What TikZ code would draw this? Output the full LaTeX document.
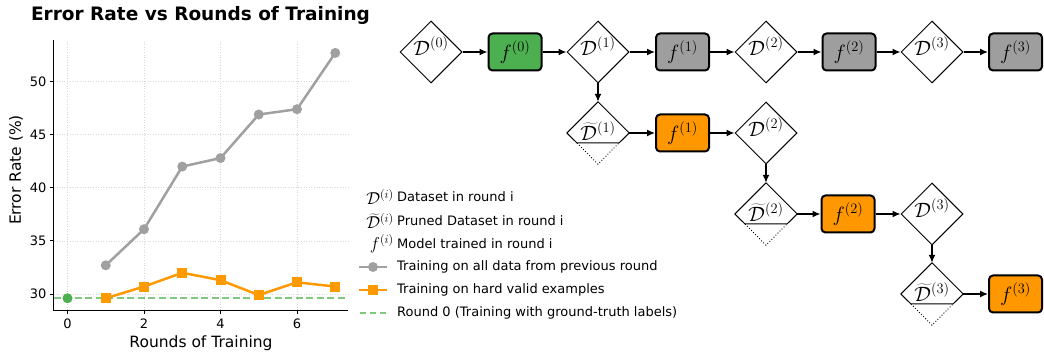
\documentclass[tikz,border=0pt]{standalone}
\usepackage{fontspec}
\newfontfamily\dv{DejaVu Sans}
\usetikzlibrary{arrows.meta,shapes.geometric,calc}
\definecolor{grayline}{HTML}{A0A0A0}
\definecolor{orangeline}{HTML}{FF9900}
\definecolor{greendot}{HTML}{4CAF50}
\definecolor{greendash}{HTML}{80C880}
\definecolor{gridc}{HTML}{D8D8D8}
\definecolor{boxgreen}{HTML}{4CAF50}
\definecolor{boxgray}{HTML}{9E9E9E}
\definecolor{boxorange}{HTML}{FF9800}
\begin{document}
\begin{tikzpicture}[x=1pt,y=-1pt,
  ds/.style={diamond, draw, line width=1pt, minimum width=62pt, minimum height=62pt, inner sep=0pt, aspect=1},
  pds/.style={diamond, minimum width=62pt, minimum height=62pt, inner sep=0pt, aspect=1},
  dlab/.style={inner sep=0pt, font=\fontsize{20}{24}\selectfont},
  mbox/.style={draw, line width=2pt, rounded corners=4pt, minimum width=53pt, minimum height=37pt, inner sep=0pt, font=\fontsize{20}{24}\selectfont},
  arr/.style={-{Latex[length=8pt,width=7pt]}, line width=1.4pt},
  ticklab/.style={font=\dv\fontsize{13}{15}\selectfont, inner sep=0pt},
  axlab/.style={font=\dv\fontsize{15.5}{18}\selectfont, inner sep=0pt},
  legtext/.style={font=\dv\fontsize{13}{15}\selectfont, anchor=west, inner sep=0pt},
  legmath/.style={font=\fontsize{18}{21}\selectfont, anchor=east, inner sep=0pt},
  gmark/.style={circle, fill=grayline, inner sep=0pt, minimum size=10pt},
  omark/.style={rectangle, fill=orangeline, inner sep=0pt, minimum size=10pt},
]
\useasboundingbox (0,0) rectangle (1044,352);

% ---------------- chart ----------------
\node[font=\dv\bfseries\fontsize{18.5}{22}\selectfont, inner sep=0pt] (title) at (200.5,15) {Error Rate vs Rounds of Training};

\begin{scope}[shift={(67.5,612.6)}, x=38.25pt, y=10.62pt]
  % grid
  \foreach \u in {0,2,4,6} \draw[gridc, dotted, line width=0.6pt] (\u,28.49) -- (\u,53.92);
  \foreach \v in {30,35,40,45,50} \draw[gridc, dotted, line width=0.6pt] (-0.353,\v) -- (7.333,\v);
  % spines
  \draw[line width=1pt] (-0.353,53.92) -- (-0.353,28.49) -- (7.333,28.49);
  % ticks and labels
  \foreach \u in {0,2,4,6} {
    \draw[line width=0.9pt] (\u,28.49) -- ++(0pt,-4pt);
    \node[ticklab, anchor=north] (xt\u) at ($(\u,28.49)+(0pt,-9pt)$) {\u};
  }
  \foreach \v in {30,35,40,45,50} {
    \draw[line width=0.9pt] (-0.353,\v) -- ++(-4pt,0pt);
    \node[ticklab, anchor=east] (yt\v) at ($(-0.353,\v)+(-7.5pt,0pt)$) {\v};
  }
  % baseline
  \draw[greendash, line width=1.8pt, dash pattern=on 7pt off 3.5pt] (-0.353,29.6) -- (7.333,29.6);
  % gray series
  \draw[grayline, line width=2.5pt, line join=round] (1,32.7) -- (2,36.1) -- (3,42.0) -- (4,42.8) -- (5,46.9) -- (6,47.4) -- (7,52.7);
  \foreach \u/\v [count=\i] in {1/32.7,2/36.1,3/42.0,4/42.8,5/46.9,6/47.4,7/52.7}
    \node[gmark] (g\i) at (\u,\v) {};
  % orange series
  \draw[orangeline, line width=2.5pt, line join=round] (1,29.6) -- (2,30.7) -- (3,32.0) -- (4,31.3) -- (5,29.9) -- (6,31.1) -- (7,30.7);
  \foreach \u/\v [count=\i] in {1/29.6,2/30.7,3/32.0,4/31.3,5/29.9,6/31.1,7/30.7}
    \node[omark] (o\i) at (\u,\v) {};
  % round 0 point
  \node[circle, fill=greendot, inner sep=0pt, minimum size=10pt] (r0) at (0,29.6) {};
\end{scope}

\node[axlab] (xlab) at (201,343) {Rounds of Training};
\node[axlab, rotate=90] (ylab) at (16,170) {Error Rate (\%)};

% legend
\node[legmath] (lm1) at (394,197) {$\mathcal{D}^{(i)}$};
\node[legtext] (lt1) at (397,197) {Dataset in round i};
\node[legmath] (lm2) at (394,221) {$\widetilde{\mathcal{D}}^{(i)}$};
\node[legtext] (lt2) at (397,221) {Pruned Dataset in round i};
\node[legmath] (lm3) at (394,244) {$f^{(i)}$};
\node[legtext] (lt3) at (397,244) {Model trained in round i};
\coordinate (lg4a) at (359,267); \coordinate (lg4b) at (387,267);
\draw[grayline, line width=2.5pt] (lg4a) -- (lg4b);
\node[gmark] (lg4m) at (373,267) {};
\node[legtext] (lt4) at (397,267) {Training on all data from previous round};
\coordinate (lg5a) at (359,290); \coordinate (lg5b) at (387,290);
\draw[orangeline, line width=2.5pt] (lg5a) -- (lg5b);
\node[omark] (lg5m) at (373,290) {};
\node[legtext] (lt5) at (397,290) {Training on hard valid examples};
\coordinate (lg6a) at (360,313); \coordinate (lg6b) at (387,313);
\draw[greendash, line width=1.8pt, dash pattern=on 6pt off 4pt] (lg6a) -- (lg6b);
\node[legtext] (lt6) at (397,313) {Round 0 (Training with ground-truth labels)};

% ---------------- flow diagram ----------------
% row 1
\node[ds] (D0) at (431,52) {};
\node[dlab] (D0l) at (431,46) {$\mathcal{D}^{(0)}$};
\node[mbox, fill=boxgreen] (f0) at (515,52) {$f^{(0)}$};
\node[ds] (D1) at (598,52) {};
\node[dlab] (D1l) at (598,46) {$\mathcal{D}^{(1)}$};
\node[mbox, fill=boxgray] (f1) at (682.5,52) {$f^{(1)}$};
\node[ds] (D2) at (766,52) {};
\node[dlab] (D2l) at (766,46) {$\mathcal{D}^{(2)}$};
\node[mbox, fill=boxgray] (f2) at (849,52) {$f^{(2)}$};
\node[ds] (D3) at (932,52) {};
\node[dlab] (D3l) at (932,46) {$\mathcal{D}^{(3)}$};
\node[mbox, fill=boxgray] (f3) at (1015.5,52) {$f^{(3)}$};

% row 2
\node[pds] (P1) at (598,133) {};
\node[dlab] (P1l) at (598,131) {$\widetilde{\mathcal{D}}^{(1)}$};
\node[mbox, fill=boxorange] (g1) at (682.5,133) {$f^{(1)}$};
\node[ds] (E2) at (766,133) {};
\node[dlab] (E2l) at (766,127) {$\mathcal{D}^{(2)}$};

% row 3
\node[pds] (P2) at (766,214) {};
\node[dlab] (P2l) at (766,212) {$\widetilde{\mathcal{D}}^{(2)}$};
\node[mbox, fill=boxorange] (g2) at (848,214) {$f^{(2)}$};
\node[ds] (E3) at (932,214) {};
\node[dlab] (E3l) at (932,208) {$\mathcal{D}^{(3)}$};

% row 4
\node[pds] (P3) at (932,294) {};
\node[dlab] (P3l) at (932,292) {$\widetilde{\mathcal{D}}^{(3)}$};
\node[mbox, fill=boxorange] (g3) at (1015.5,294) {$f^{(3)}$};

% pruned diamond outlines
\foreach \p in {P1,P2,P3} {
  \draw[line width=1pt, line join=round] ($(\p.center)+(-21,10)$) -- (\p.west) -- (\p.north) -- (\p.east) -- ($(\p.center)+(21,10)$) -- cycle;
  \draw[line width=0.9pt, dotted] ($(\p.center)+(-21,10)$) -- (\p.south) -- ($(\p.center)+(21,10)$);
}

% connectors
\draw[arr] (D0.east) -- (f0.west);
\draw[arr] (f0.east) -- (D1.west);
\draw[arr] (D1.east) -- (f1.west);
\draw[arr] (f1.east) -- (D2.west);
\draw[arr] (D2.east) -- (f2.west);
\draw[arr] (f2.east) -- (D3.west);
\draw[arr] (D3.east) -- (f3.west);
\draw[arr] (D1.south) -- (P1.north);
\draw[arr] (P1.east) -- (g1.west);
\draw[arr] (g1.east) -- (E2.west);
\draw[arr] (E2.south) -- (P2.north);
\draw[arr] (P2.east) -- (g2.west);
\draw[arr] (g2.east) -- (E3.west);
\draw[arr] (E3.south) -- (P3.north);
\draw[arr] (P3.east) -- (g3.west);
\end{tikzpicture}
\end{document}
